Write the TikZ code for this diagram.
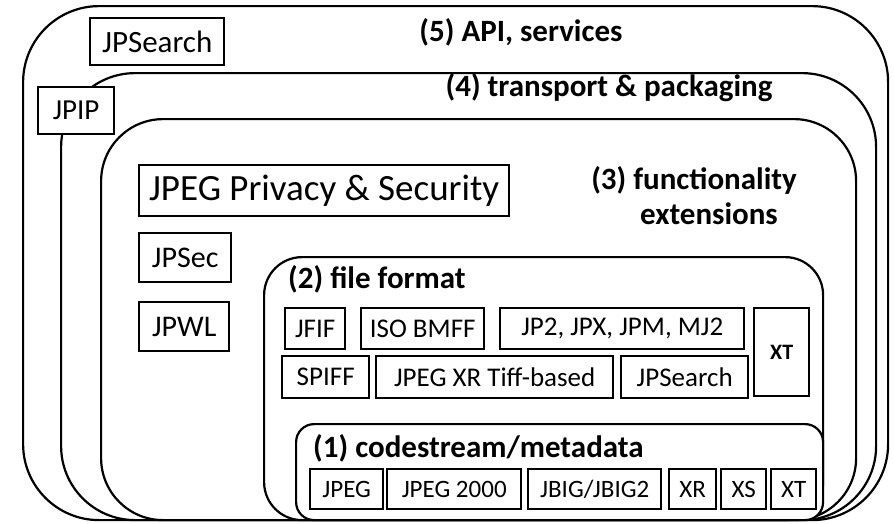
\documentclass[tikz,border=0pt]{standalone}
\usepackage{fontspec}
\setmainfont{Carlito}
\begin{document}
\begin{tikzpicture}[x=1pt,y=-1pt,
  layer/.style={draw, line width=2.2pt, fill=white, rounded corners=#1, anchor=north west, inner sep=0pt},
  bx/.style={draw, line width=2.4pt, fill=white, anchor=north west, inner sep=0pt, align=center},
  lbl/.style={font=\fontsize{31}{35}\selectfont\bfseries, inner sep=0pt},
  f25/.style={font=\fontsize{25}{30}\selectfont},
  f27/.style={font=\fontsize{27}{32}\selectfont},
  f30/.style={font=\fontsize{30}{36}\selectfont}]
\useasboundingbox[fill=white] (0,0) rectangle (894,523);
% layers
\node[layer=76pt, minimum width=865pt, minimum height=514pt] (L5) at (22,5) {};
\node[layer=74pt, minimum width=815pt, minimum height=447pt] (L4) at (60,72) {};
\node[bx, minimum width=76pt, minimum height=47pt, font=\fontsize{29}{34}\selectfont] (jpip) at (37,86) {JPIP};
\node[layer=62pt, minimum width=755pt, minimum height=401pt] (L3) at (100,118) {};
\node[layer=38pt, minimum width=559pt, minimum height=263pt] (L2) at (263,256) {};
\node[layer=18pt, minimum width=527pt, minimum height=96pt] (L1) at (295,423) {};
% labels
\node[lbl] (t5) at (521,32) {(5) API, services};
\node[lbl] (t4) at (609,88) {(4) transport \& packaging};
\node[lbl, align=right, anchor=east] (t3) at (797,196) {(3) functionality\\extensions\hspace*{19pt}};
\node[lbl, anchor=west] (t2) at (288,279) {(2) file format};
\node[lbl, anchor=west] (t1) at (313,448) {(1) codestream/metadata};
% layer 5 / 3 boxes
\node[bx, minimum width=134pt, minimum height=47pt, font=\fontsize{31}{36}\selectfont] (jpsearchtop) at (89,17) {JPSearch};
\node[bx, minimum width=370pt, minimum height=51pt, font=\fontsize{37}{42}\selectfont] (privacy) at (138,164) {JPEG Privacy \& Security};
\node[bx, f30, minimum width=92pt, minimum height=49pt] (jpsec) at (138,232) {JPSec};
\node[bx, f30, minimum width=90pt, minimum height=49pt] (jpwl) at (138,301) {JPWL};
% layer 2 boxes
\node[bx, f27, minimum width=60pt, minimum height=41pt] (jfif) at (284,307) {JFIF};
\node[bx, f27, minimum width=123pt, minimum height=41pt] (isobmff) at (360,307) {ISO BMFF};
\node[bx, f27, minimum width=244pt, minimum height=41pt] (jp2) at (499,307) {JP2, JPX, JPM, MJ2};
\node[bx, minimum width=55pt, minimum height=88pt, font=\fontsize{22}{26}\selectfont\bfseries] (xtff) at (753,307) {XT};
\node[bx, f27, minimum width=87pt, minimum height=42pt] (spiff) at (281,355) {SPIFF};
\node[bx, f27, minimum width=237pt, minimum height=42pt] (jpegxr) at (375,355) {JPEG XR Tiff-based};
\node[bx, f27, minimum width=127pt, minimum height=42pt] (jpsearchff) at (620,355) {JPSearch};
% layer 1 boxes
\node[bx, f25, minimum width=73pt, minimum height=40pt] (jpeg) at (309,468) {JPEG};
\node[bx, f25, minimum width=134pt, minimum height=40pt] (jpeg2000) at (386,468) {JPEG 2000};
\node[bx, f25, minimum width=133pt, minimum height=40pt] (jbig) at (527,468) {JBIG/JBIG2};
\node[bx, f25, minimum width=47pt, minimum height=40pt] (xr) at (668,468) {XR};
\node[bx, f25, minimum width=45pt, minimum height=40pt] (xs) at (720,468) {XS};
\node[bx, f25, minimum width=45pt, minimum height=40pt] (xtcs) at (770,468) {XT};
\end{tikzpicture}
\end{document}
